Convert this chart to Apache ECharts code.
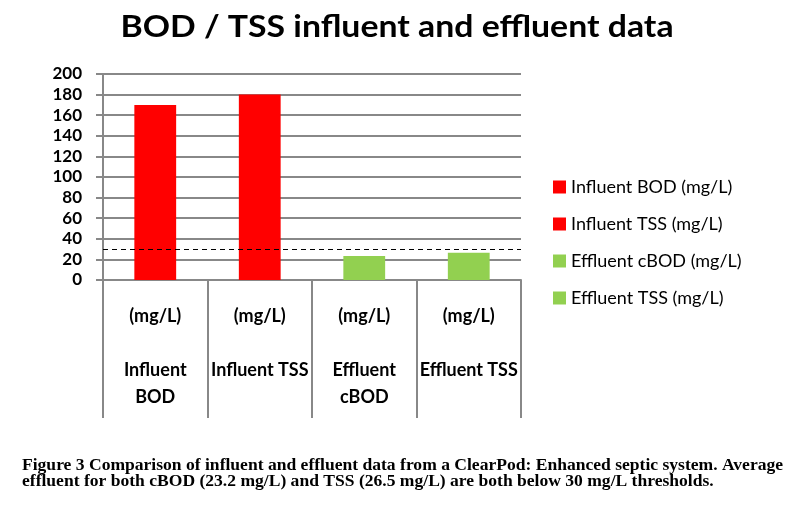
<!DOCTYPE html>
<html>
<head>
<meta charset="utf-8">
<script src="https://cdn.jsdelivr.net/npm/echarts@6/dist/echarts.min.js"></script>
<style>html,body{margin:0;padding:0;background:#fff;}#c{width:794px;height:506px;}</style>
</head>
<body>
<div id="c"></div>
<script>
const categories = ['(mg/L)\n\nInfluent\nBOD', '(mg/L)\n\nInfluent TSS', '(mg/L)\n\nEffluent\ncBOD', '(mg/L)\n\nEffluent TSS'];
const seriesNames = ['Influent BOD (mg/L)', 'Influent TSS (mg/L)', 'Effluent cBOD (mg/L)', 'Effluent TSS (mg/L)'];
const values = [170, 180, 23.2, 26.5];
const colors = ['#FF0000', '#FF0000', '#92D050', '#92D050'];
const threshold = 30;
const yTicks = [0, 20, 40, 60, 80, 100, 120, 140, 160, 180, 200];
const titleText = 'BOD / TSS influent and effluent data';
const captionLines = [
  'Figure 3 Comparison of influent and effluent data from a ClearPod: Enhanced septic system. Average',
  'effluent for both cBOD (23.2 mg/L) and TSS (26.5 mg/L) are both below 30 mg/L thresholds.'
];

const series = seriesNames.map((name, i) => {
  const s = {
    name: name,
    type: 'bar',
    stack: 'all',
    barWidth: '40%',
    itemStyle: { color: colors[i] },
    data: values.map((v, j) => (j === i ? v : '-'))
  };
  if (i === 0) {
    s.markLine = {
      silent: true,
      symbol: 'none',
      label: { show: false },
      lineStyle: { color: '#000', type: [5, 4], width: 1 },
      data: [{ yAxis: threshold }]
    };
  }
  return s;
});

const chart = echarts.init(document.getElementById('c'));
chart.setOption({
  animation: false,
  backgroundColor: '#fff',
  legend: {
    orient: 'vertical',
    left: 548, top: 173,
    itemWidth: 13, itemHeight: 13, itemGap: 19,
    icon: 'rect',
    textStyle: { fontFamily: 'Lato', fontSize: 18, color: '#000' },
    data: seriesNames
  },
  grid: { left: 103, right: 273, top: 74, bottom: 226 },
  xAxis: {
    type: 'category',
    data: categories,
    axisLine: { lineStyle: { color: '#888', width: 2 } },
    axisTick: { show: true, length: 138, lineStyle: { color: '#888', width: 2 } },
    axisLabel: {
      interval: 0, margin: 23, lineHeight: 27,
      fontFamily: 'Lato', fontWeight: 'bold', fontSize: 18, color: '#000'
    }
  },
  yAxis: {
    type: 'value',
    min: 0, max: 200, interval: 20,
    axisLine: { show: true, lineStyle: { color: '#888', width: 2 } },
    axisTick: { show: true, length: 7, lineStyle: { color: '#888', width: 2 } },
    splitLine: { lineStyle: { color: '#888', width: 2 } },
    axisLabel: {
      margin: 21,
      fontFamily: 'Lato', fontWeight: 'bold', fontSize: 17, color: '#000',
      formatter: v => (yTicks.indexOf(v) >= 0 ? String(v) : '')
    }
  },
  graphic: [
    {
      type: 'text',
      x: 397, y: 27, scaleX: 1.09,
      style: {
        text: titleText, x: 0, y: 0, align: 'center', verticalAlign: 'middle',
        font: 'bold 31px Lato', fill: '#000'
      }
    }
  ].concat(captionLines.map((t, i) => ({
    type: 'text',
    x: 22, y: 458 + i * 15.5, scaleX: 1.097,
    style: { text: t, x: 0, y: 0, verticalAlign: 'top', font: 'bold 16px "Liberation Serif"', fill: '#000' }
  }))),
  series: series
});
</script>
</body>
</html>
